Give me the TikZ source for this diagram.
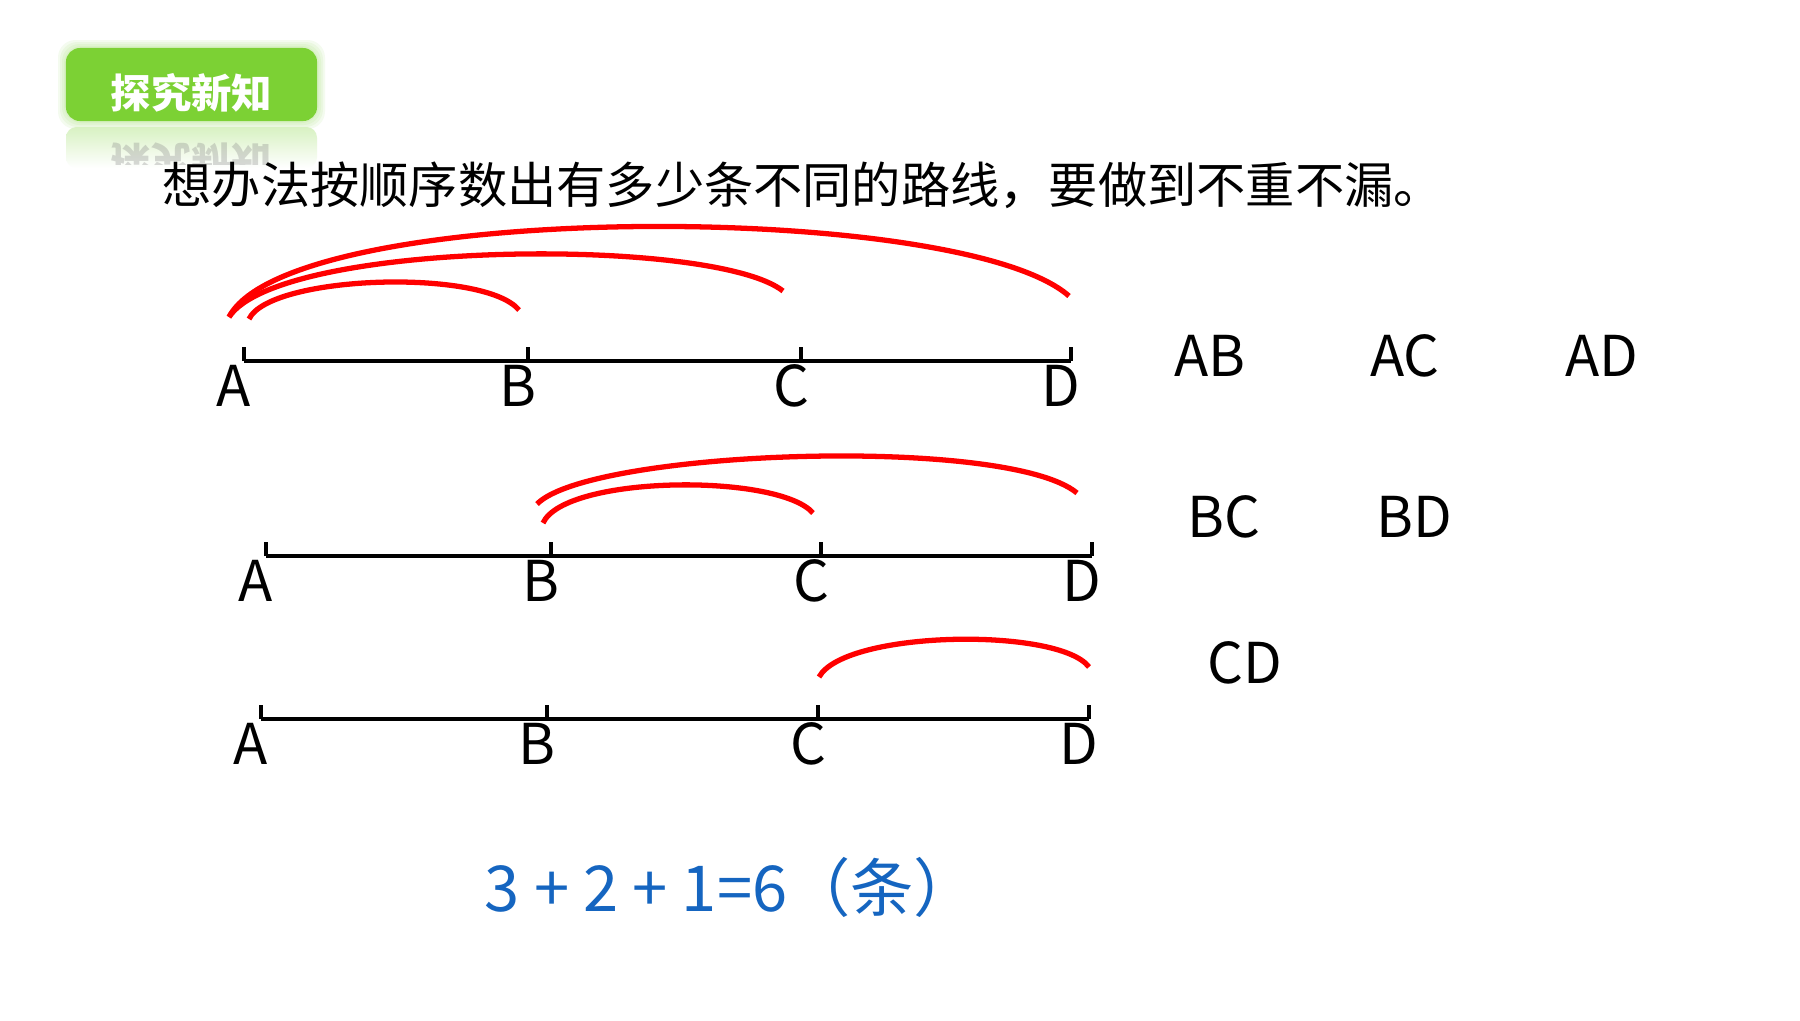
\documentclass[tikz,border=0pt]{standalone}
\usepackage{fontspec}
\setmainfont{Noto Sans CJK SC}
\usetikzlibrary{calc}
\definecolor{tagGreen}{RGB}{124,209,52}
\definecolor{sumBlue}{RGB}{21,101,192}

\begin{document}
\begin{tikzpicture}[x=0.01cm, y=-0.01cm,
	axis/.style = {line width=1.3pt, black},
	route/.style = {line width=1.5pt, red},
	pt/.style = {font=\fontsize{16pt}{18pt}\selectfont, anchor=base, inner sep=0pt},
	pair/.style = {font=\fontsize{16pt}{18pt}\selectfont, anchor=base, inner sep=0pt}]
	\fill[white] (0,0) rectangle (1800,1020);
	\useasboundingbox (0,0) rectangle (1800,1020);

	% green tag with soft edge and reflection
	\foreach \o in {8,6,4,2}
		\fill[tagGreen, opacity=0.08, rounded corners=5pt] (66-\o,48-\o) rectangle (317+\o,121+\o);
	\shade[top color=tagGreen!30, bottom color=white, rounded corners=3pt] (66,127) rectangle (317,168);
	\begin{scope}
		\clip (66,127) rectangle (317,164);
		\node[yscale=-1, opacity=0.3, text=gray, font=\fontsize{11.5pt}{13pt}\selectfont\bfseries] (tagmirror) at (191,162) {探究新知};
	\end{scope}
	\node[fill=tagGreen, rounded corners=4pt, minimum width=2.51cm, minimum height=0.73cm, inner sep=0pt] (tag) at (191.5,84.5) {};
	\node[text=white, font=\fontsize{11.5pt}{13pt}\selectfont\bfseries] (tagtext) at ($(tag)+(0,8)$) {探究新知};

	\node[anchor=west, inner sep=0pt, font=\fontsize{14pt}{16pt}\selectfont] (title) at (162,185) {想办法按顺序数出有多少条不同的路线，要做到不重不漏。};

	% three copies of the line A B C D
	\coordinate (A1) at (244,361); \coordinate (B1) at (528,361);
	\coordinate (C1) at (801,361); \coordinate (D1) at (1071,361);
	\coordinate (A2) at (266,556); \coordinate (B2) at (551,556);
	\coordinate (C2) at (821,556); \coordinate (D2) at (1092,556);
	\coordinate (A3) at (261,719); \coordinate (B3) at (547,719);
	\coordinate (C3) at (818,719); \coordinate (D3) at (1089,719);

	\foreach \r in {1,2,3} {
		\draw[axis] (A\r) -- (D\r);
		\foreach \p in {A,B,C,D} {
			\draw[axis] (\p\r) -- ++(0,-14);
			\node[pt] (lab\p\r) at ($(\p\r)+(-10,45)$) {\p};
		}
	}

	% routes
	\draw[route] ([shift={(5,-42)}]A1) .. controls +(21,-44) and +(-35,-42) .. ([shift={(-9,-51)}]B1);
	\draw[route] ([shift={(-15,-44)}]A1) .. controls +(51,-77) and +(-70,-55) .. ([shift={(-18,-70)}]C1);
	\draw[route] ([shift={(-15,-44)}]A1) .. controls +(61,-117) and +(-109,-96) .. ([shift={(-2,-65)}]D1);
	\draw[route] ([shift={(-8,-33)}]B2) .. controls +(22,-48) and +(-35,-40) .. ([shift={(-8,-43)}]C2);
	\draw[route] ([shift={(-14,-52)}]B2) .. controls +(53,-54) and +(-70,-58) .. ([shift={(-15,-63)}]D2);
	\draw[route] ([shift={(1,-42)}]C3) .. controls +(26,-47) and +(-30,-40) .. ([shift={(0,-52)}]D3);

	% the segments found
	\node[pair] (AB) at (1210,376) {AB};
	\node[pair] (AC) at (1405,376) {AC};
	\node[pair] (AD) at (1602,376) {AD};
	\node[pair] (BC) at (1224,537) {BC};
	\node[pair] (BD) at (1414,537) {BD};
	\node[pair] (CD) at (1245,683) {CD};

	\node[anchor=base west, inner sep=0pt, text=sumBlue, font=\fontsize{18pt}{20pt}\selectfont] (sum) at (484,911) {3 + 2 + 1=6（条）};
\end{tikzpicture}
\end{document}
